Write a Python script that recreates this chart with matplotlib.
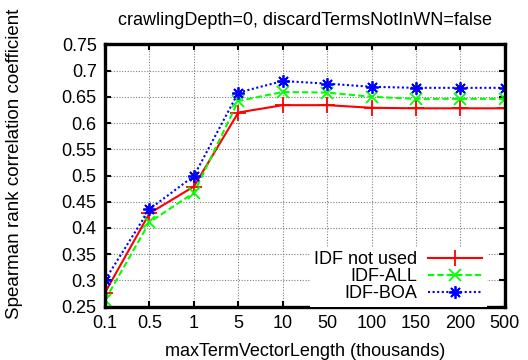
import matplotlib
matplotlib.use("Agg")
from matplotlib import pyplot as plt

plt.rcParams["font.family"] = ["Liberation Sans", "DejaVu Sans"]

x_labels = ["0.1", "0.5", "1", "5", "10", "50", "100", "150", "200", "500"]
idf_not_used = [0.277, 0.428, 0.479, 0.620, 0.634, 0.634, 0.629, 0.628, 0.628, 0.628]
idf_all = [0.263, 0.411, 0.467, 0.642, 0.659, 0.658, 0.650, 0.646, 0.646, 0.646]
idf_boa = [0.301, 0.436, 0.499, 0.658, 0.680, 0.675, 0.669, 0.667, 0.667, 0.667]
y_ticks = [0.25, 0.3, 0.35, 0.4, 0.45, 0.5, 0.55, 0.6, 0.65, 0.7, 0.75]

fig = plt.figure(figsize=(5.28, 3.6), dpi=100)
ax = fig.add_axes([0.199, 0.148, 0.757, 0.729])

xs = range(len(x_labels))
ax.plot(xs, idf_not_used, color="#ff0000", lw=1.5, ls="-",
        marker="+", ms=11, mew=1.3, label="IDF not used")
ax.plot(xs, idf_all, color="#00ff00", lw=1.5, ls=(0, (3, 1.5)),
        marker="x", ms=8, mew=1.3, label="IDF-ALL")
ax.plot(xs, idf_boa, color="#0000ff", lw=1.5, ls=(0, (1, 1.2)),
        marker=(8, 2, 0), ms=9, mew=1.3, label="IDF-BOA")

ax.set_xlim(0, len(x_labels) - 1)
ax.set_ylim(0.25, 0.75)
ax.set_xticks(list(xs))
ax.set_xticklabels(x_labels)
ax.set_yticks(y_ticks)
ax.set_yticklabels(["%g" % v for v in y_ticks])

ax.grid(True, color="#808080", ls=(0, (1, 1.5)), lw=0.8)
ax.set_axisbelow(True)
for sp in ax.spines.values():
    sp.set_linewidth(2.4)
ax.tick_params(direction="in", length=4, width=1.5, top=True, right=True,
               labelsize=13, pad=6)

ax.set_title("crawlingDepth=0, discardTermsNotInWN=false", fontsize=13, pad=14)
ax.set_xlabel("maxTermVectorLength (thousands)", fontsize=13, labelpad=8)
ax.set_ylabel("Spearman rank correlation coefficient", fontsize=13.5)
ax.yaxis.set_label_coords(-0.205, 0.546)

leg = ax.legend(loc="lower right", bbox_to_anchor=(0.955, 0.0),
                markerfirst=False, fontsize=13,
                handlelength=3.0, handletextpad=0.6, labelspacing=0.0,
                borderpad=0.25, borderaxespad=0.0, fancybox=False,
                facecolor="white", edgecolor="none", framealpha=1)

fig.savefig("out.png", dpi=100)
